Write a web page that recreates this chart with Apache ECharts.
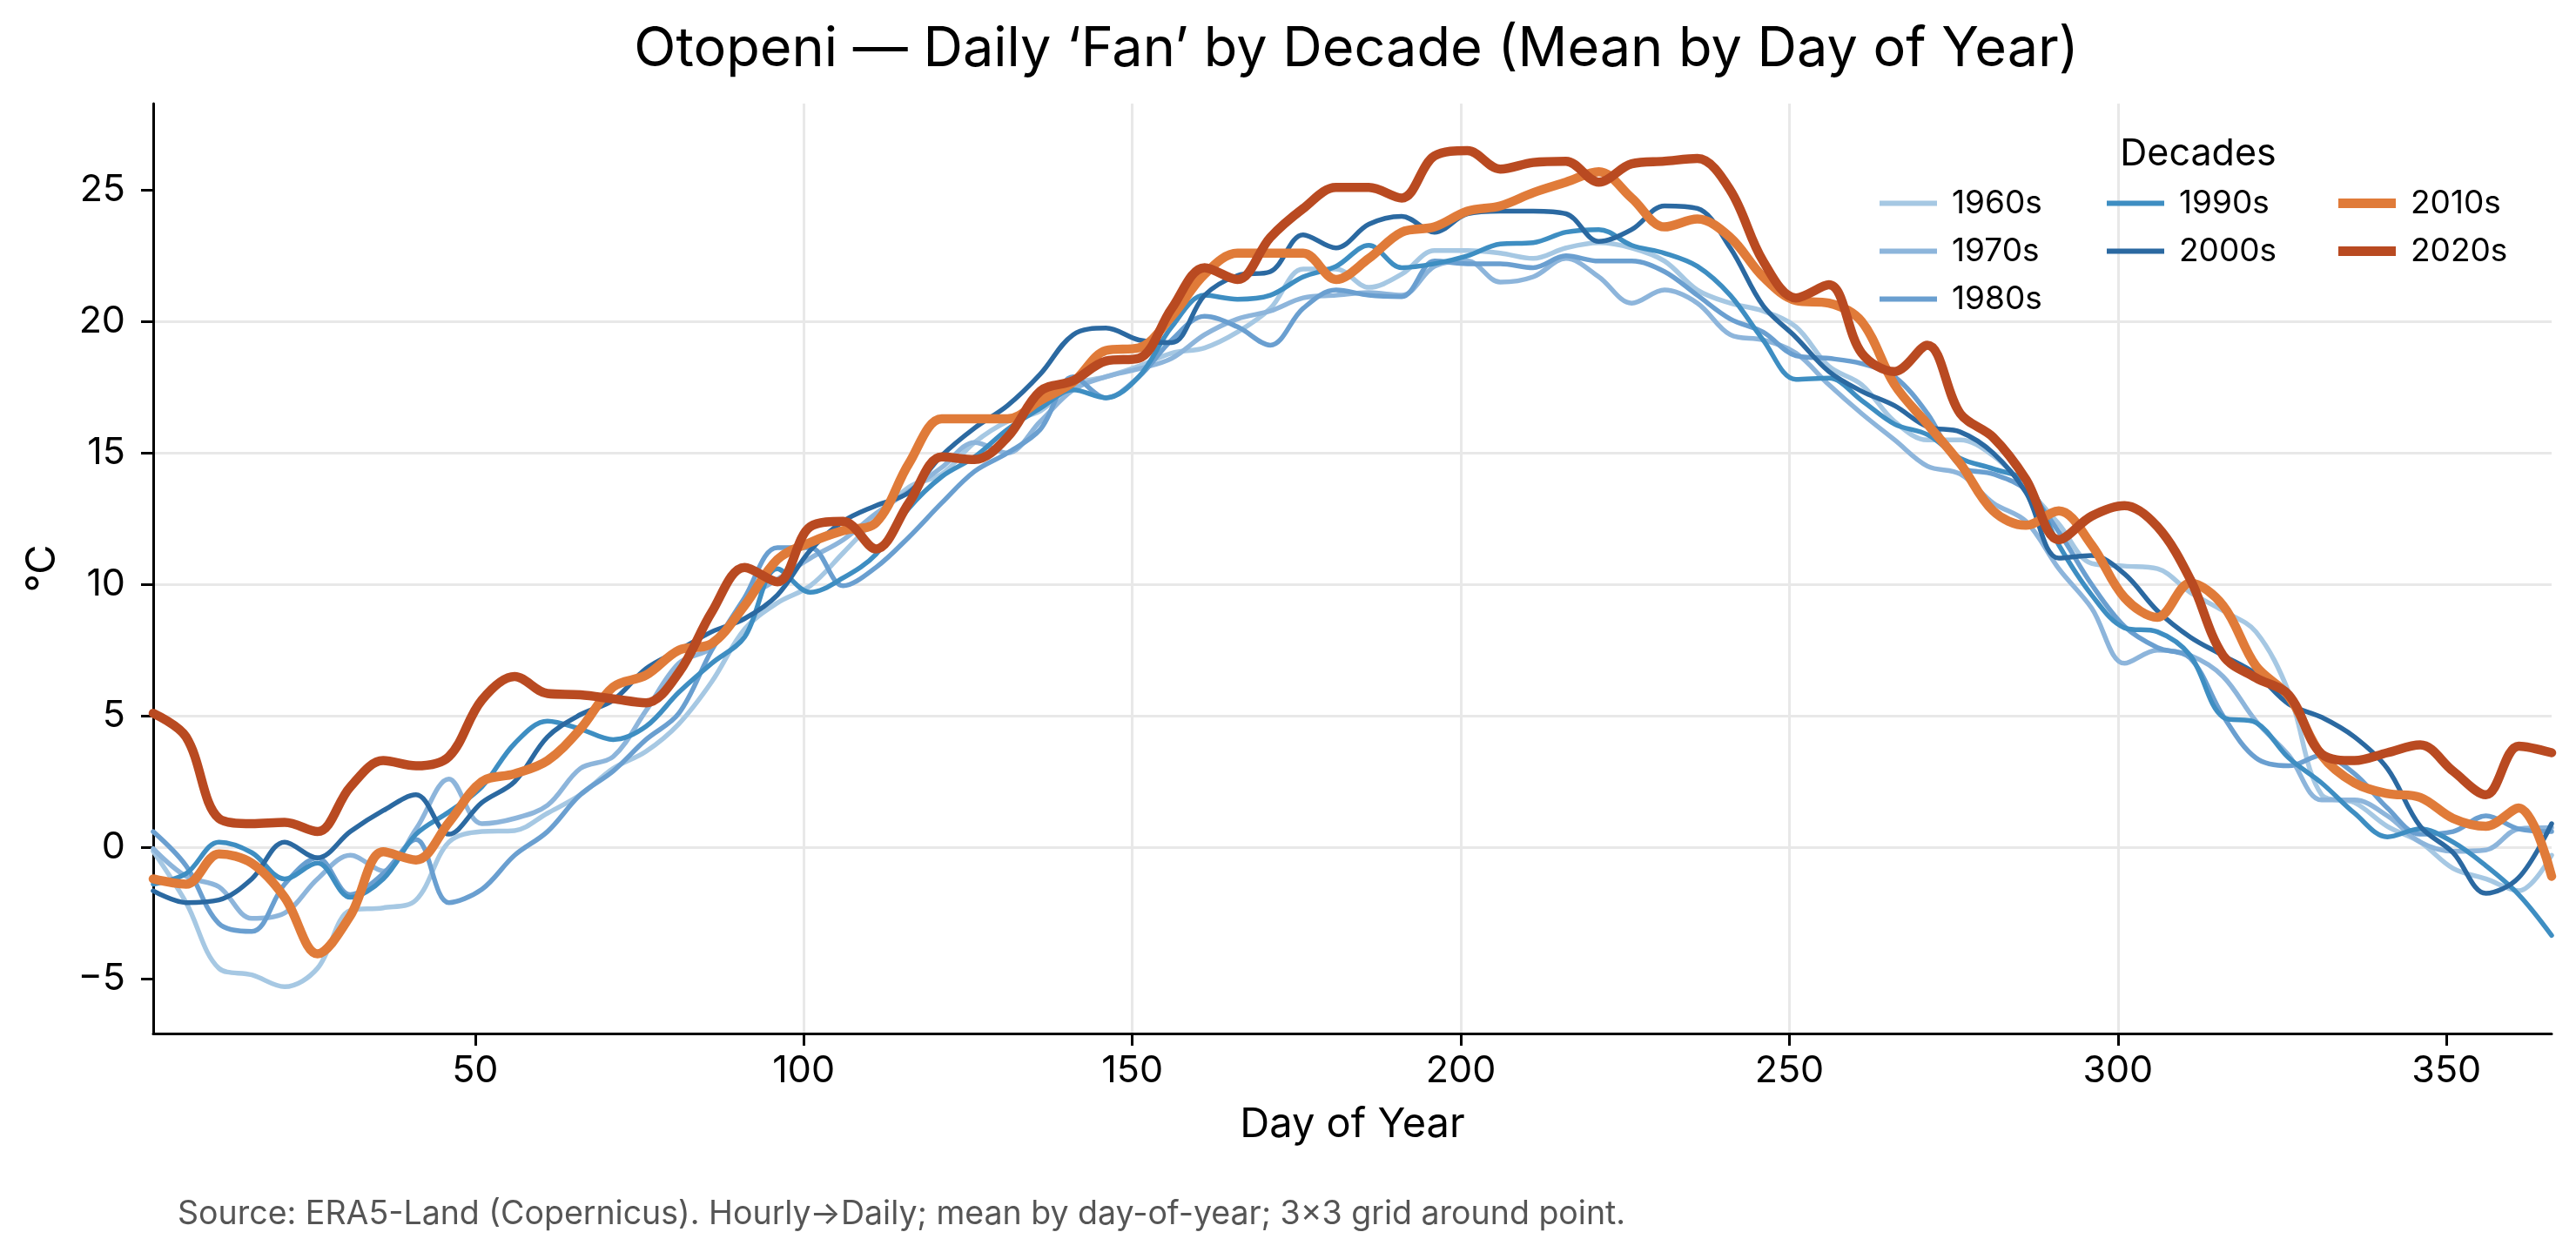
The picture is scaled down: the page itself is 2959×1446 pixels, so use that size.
<!DOCTYPE html>
<html>
<head>
<meta charset="utf-8">
<script src="https://cdn.jsdelivr.net/npm/echarts@6/dist/echarts.min.js"></script>
<style>
html,body{margin:0;padding:0;background:#fff;}
#chart{width:2959px;height:1446px;}
</style>
</head>
<body>
<div id="chart"></div>
<script>
// Day-of-year sample positions
const days = [1,6,11,16,21,26,31,36,41,46,51,56,61,66,71,76,81,86,91,96,101,106,111,116,121,126,131,136,141,146,151,156,161,166,171,176,181,186,191,196,201,206,211,216,221,226,231,236,241,246,251,256,261,266,271,276,281,286,291,296,301,306,311,316,321,326,331,336,341,346,351,356,361,366];

// Decade names
const decades = ['1960s','1970s','1980s','1990s','2000s','2010s','2020s'];

// Mean temperature (°C) by day of year, per decade
const t1960s = [-0.15,-2.1,-4.6,-4.85,-5.3,-4.6,-2.4,-2.3,-2.0,0.2,0.6,0.64,1.3,2.0,
  3.0,3.65,4.7,6.3,8.3,9.3,9.95,11.2,12.5,13.7,14.2,15.4,16.2,16.6,
  17.6,17.9,18.3,18.8,19.0,19.6,20.5,22.0,22.0,21.3,21.8,22.7,22.7,
  22.6,22.4,22.8,23.0,22.8,22.3,21.2,20.7,20.4,19.8,18.3,17.6,16.2,15.5,
  15.5,14.9,13.7,12.3,10.8,10.7,10.6,9.7,9.0,8.2,5.9,2.0,1.7,0.8,0.2,-0.8,-1.2,-1.65,-0.3];
const t1970s = [-0.05,-1.1,-1.5,-2.7,-2.5,-1.2,-0.3,-0.9,0.7,2.6,0.9,1.1,1.6,3.0,
  3.45,5.2,7.0,7.6,9.35,10.2,11.0,11.7,12.7,13.55,14.45,15.4,15.0,16.2,
  17.4,17.9,18.2,18.6,19.5,20.1,20.4,20.9,21.0,21.1,21.0,22.1,22.3,
  21.5,21.7,22.4,21.7,20.7,21.2,20.7,19.5,19.3,18.8,17.6,16.5,15.5,14.5,
  14.2,13.1,12.4,10.6,9.1,7.0,7.5,7.3,6.5,4.8,3.5,1.8,1.8,1.2,0.2,-0.15,-0.1,0.7,0.75];
const t1980s = [0.6,-0.7,-2.9,-3.2,-1.4,-0.4,-1.8,-1.0,0.3,-2.1,-1.6,-0.3,0.6,2.0,
  2.9,4.1,5.1,7.5,9.5,11.4,11.4,9.95,10.65,11.8,13.1,14.3,15.0,15.9,
  17.9,17.1,17.9,19.3,20.2,19.8,19.1,20.5,21.2,21.0,20.95,22.3,22.2,
  22.2,22.05,22.5,22.3,22.3,21.9,21.0,20.1,19.6,18.7,18.6,18.4,17.9,16.5,
  14.5,14.2,13.6,12.0,10.0,8.4,7.6,7.2,5.0,3.4,3.1,3.5,2.8,1.5,0.5,0.6,1.2,0.7,0.6];
const t1990s = [-1.4,-1.0,0.2,-0.2,-1.2,-0.6,-1.9,-1.2,0.5,1.35,2.3,3.95,4.8,4.5,
  4.1,4.6,5.9,7.0,8.0,10.6,9.7,10.25,11.15,12.9,14.1,14.85,15.9,16.7,
  17.4,17.1,17.9,19.8,21.0,20.85,21.0,21.7,22.1,22.9,22.05,22.2,22.5,
  22.95,23.0,23.4,23.5,22.9,22.6,22.1,21.0,19.3,17.8,17.85,17.0,16.1,15.7,
  14.8,14.4,13.9,11.5,9.6,8.35,8.2,7.3,4.95,4.75,3.4,2.45,1.3,0.4,0.7,0.2,-0.7,-1.8,-3.35];
const t2000s = [-1.65,-2.1,-2.0,-1.2,0.2,-0.4,0.6,1.4,2.0,0.5,1.7,2.5,4.2,5.05,
  5.6,6.8,7.5,8.2,8.7,9.6,11.3,12.4,13.0,13.5,14.9,15.95,16.8,18.0,
  19.5,19.75,19.3,19.2,21.0,21.75,21.9,23.3,22.8,23.7,24.0,23.4,24.1,
  24.2,24.2,24.1,23.05,23.5,24.4,24.3,22.8,20.6,19.4,18.1,17.35,16.8,16.0,
  15.8,15.0,13.5,11.0,11.1,10.4,9.0,8.0,7.3,6.6,5.45,4.95,4.2,3.0,0.8,-0.2,-1.75,-1.15,0.9];
const t2010s = [-1.2,-1.4,-0.25,-0.6,-1.9,-4.05,-2.6,-0.17,-0.48,0.95,2.5,2.8,3.3,4.5,
  6.1,6.55,7.5,7.75,9.2,10.95,11.6,12.05,12.35,14.6,16.3,16.3,16.3,17.0,
  17.7,18.9,19.0,20.2,21.8,22.6,22.6,22.6,21.6,22.4,23.4,23.6,24.2,
  24.4,24.9,25.3,25.7,24.7,23.6,23.9,23.2,21.7,20.8,20.7,20.0,17.6,16.1,
  14.6,12.8,12.25,12.8,11.5,9.5,8.75,10.05,9.2,6.9,5.75,3.5,2.45,2.05,1.9,1.1,0.8,1.5,-1.1];
const t2020s = [5.1,4.2,1.1,0.9,0.95,0.6,2.3,3.3,3.1,3.45,5.6,6.5,5.85,5.8,
  5.65,5.5,6.65,8.95,10.65,10.1,12.2,12.4,11.35,13.1,14.85,14.75,15.6,17.35,
  17.75,18.5,18.6,20.5,22.05,21.6,23.2,24.3,25.1,25.1,24.7,26.3,26.5,
  25.8,26.05,26.1,25.3,26.0,26.1,26.2,25.0,22.3,20.9,21.4,18.8,18.1,19.1,
  16.5,15.6,14.0,11.7,12.6,13.0,12.2,10.2,7.3,6.45,5.8,3.55,3.3,3.6,3.9,2.9,2.0,3.85,3.6];

const seriesValues = [t1960s,t1970s,t1980s,t1990s,t2000s,t2010s,t2020s];

// Tick labels
const xTicks = [50,100,150,200,250,300,350];
const yTicks = [-5,0,5,10,15,20,25];

const colors = ['#a6c8e3','#8db5db','#6a9fd0','#3e8ec2','#2b69a1','#e07b39','#b94a21'];
const widths = [5.5,5.5,5.5,5.5,5.5,10.5,10.5];
const FONT = 'Inter';

const chart = echarts.init(document.getElementById('chart'), null, {renderer:'canvas', width:2959, height:1446});

const series = decades.map((name, k) => ({
  name: name,
  type: 'line',
  data: days.map((d, i) => [d, seriesValues[k][i]]),
  showSymbol: false,
  symbol: 'none',
  smooth: 0.35,
  color: colors[k],
  lineStyle: {color: colors[k], width: widths[k], cap: 'round', join: 'round'},
  emphasis: {disabled: true},
  animation: false,
  z: 2 + k
}));

function legendCol(names, left, ih) {
  return {
    data: names.map(n => ({name: n, icon: 'rect'})),
    orient: 'vertical',
    left: left,
    top: 215,
    padding: 0,
    itemWidth: 66,
    itemHeight: ih,
    itemGap: 18,
    selectedMode: false,
    textStyle: {fontFamily: FONT, fontSize: 37, lineHeight: 37, color: '#000', padding: [0,0,0,12]}
  };
}

const option = {
  backgroundColor: '#fff',
  animation: false,
  textStyle: {fontFamily: FONT},
  title: [
    {
      text: 'Otopeni — Daily ‘Fan’ by Decade (Mean by Day of Year)',
      left: 1558, top: 26, textAlign: 'center', padding: 0,
      textStyle: {fontFamily: FONT, fontSize: 63, fontWeight: 'normal', color: '#000'}
    },
    {
      text: 'Source: ERA5-Land (Copernicus). Hourly→Daily; mean by day-of-year; 3×3 grid around point.',
      left: 204, top: 1376, padding: 0,
      textStyle: {fontFamily: FONT, fontSize: 37.5, fontWeight: 'normal', color: '#555555'}
    }
  ],
  legend: [
    legendCol(['1960s','1970s','1980s'], 2159, 6),
    legendCol(['1990s','2000s'], 2420, 6),
    legendCol(['2010s','2020s'], 2686, 11)
  ],
  graphic: [
    {type: 'text', x: 2525, y: 177,
     style: {text: 'Decades', fontFamily: FONT, fontSize: 43, fill: '#000', align: 'center', verticalAlign: 'middle'}}
  ],
  grid: {left: 176, right: 28, top: 119, bottom: 259, containLabel: false},
  xAxis: {
    type: 'value', min: 1, max: 366, splitNumber: 7,
    name: 'Day of Year', nameLocation: 'middle', nameGap: 81,
    nameTextStyle: {fontFamily: FONT, fontSize: 47, color: '#000'},
    axisLine: {onZero: false, lineStyle: {color: '#000', width: 3}},
    axisTick: {show: true, length: 14, customValues: xTicks, lineStyle: {color: '#000', width: 3}},
    axisLabel: {customValues: xTicks, fontFamily: FONT, fontSize: 43, color: '#000', margin: 22},
    splitLine: {show: true, showMinLine: false, showMaxLine: false, lineStyle: {color: '#e8e8e8', width: 3}}
  },
  yAxis: {
    type: 'value', min: -7.08, max: 28.29, splitNumber: 7,
    name: '°C', nameLocation: 'middle', nameGap: 104, nameRotate: 90,
    nameTextStyle: {fontFamily: FONT, fontSize: 47, color: '#000'},
    axisLine: {show: true, onZero: false, lineStyle: {color: '#000', width: 3}},
    axisTick: {show: true, length: 14, customValues: yTicks, lineStyle: {color: '#000', width: 3}},
    axisLabel: {customValues: yTicks, fontFamily: FONT, fontSize: 43, color: '#000', margin: 32,
      formatter: v => String(v).replace('-', '\u2212')},
    splitLine: {show: true, showMinLine: false, showMaxLine: false, lineStyle: {color: '#e8e8e8', width: 3}}
  },
  series: series
};

chart.setOption(option);
</script>
</body>
</html>
